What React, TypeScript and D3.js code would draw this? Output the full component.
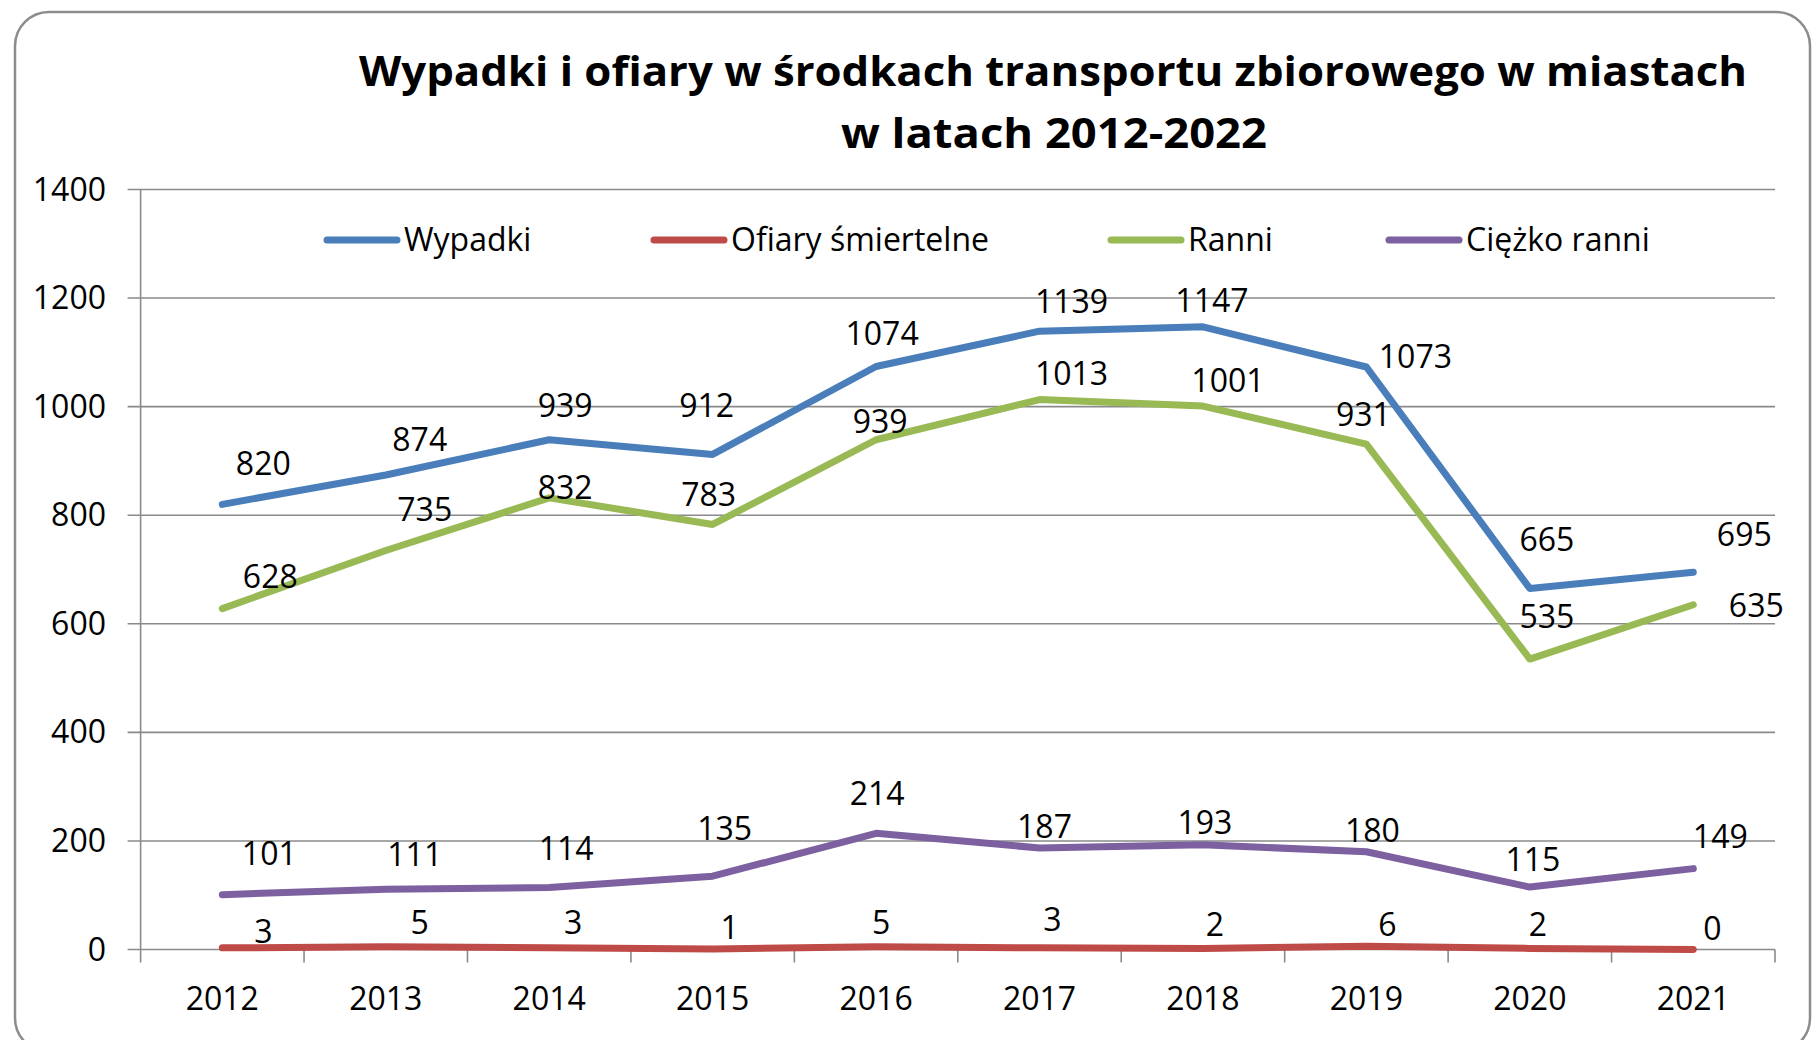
import React from "react";
import * as d3 from "d3";

// chart data
const years = ["2012", "2013", "2014", "2015", "2016", "2017", "2018", "2019", "2020", "2021"];
const wypadki = [820, 874, 939, 912, 1074, 1139, 1147, 1073, 665, 695];
const smiertelne = [3, 5, 3, 1, 5, 3, 2, 6, 2, 0];
const ranni = [628, 735, 832, 783, 939, 1013, 1001, 931, 535, 635];
const ciezkoRanni = [101, 111, 114, 135, 214, 187, 193, 180, 115, 149];
const seriesNames = ["Wypadki", "Ofiary śmiertelne", "Ranni", "Ciężko ranni"];
const yTicks = [0, 200, 400, 600, 800, 1000, 1200, 1400];
const titleLines = [
  "Wypadki i ofiary w środkach transportu zbiorowego w miastach",
  "w latach 2012-2022",
];

// layout: label nudges (dx, dy from point to label baseline), hand-placed in the original
const shiftWypadki = [[41, -29], [34, -24], [16, -23], [-6, -37], [6, -21], [32, -18], [9, -15], [49, 1], [17, -38], [51, -26]];
const shiftSmiertelne = [[41, -5], [34, -13], [24, -14], [17, -10], [5, -13], [13, -17], [12, -12], [21, -10], [8, -12], [19, -10]];
const shiftRanni = [[48, -21], [39, -30], [16, 1], [-4, -18], [4, -7], [32, -15], [25, -14], [-3, -18], [17, -31], [63, 12]];
const shiftCiezko = [[47, -30], [29, -23], [17, -28], [12, -36], [1, -28], [5, -10], [2, -11], [6, -10], [3, -16], [27, -21]];

const colors = ["#4a7ebb", "#be4b48", "#98b954", "#7d60a0"];
const font = "'Open Sans', 'Noto Sans', sans-serif";

const W = 1817;
const H = 1040;
const plot = { left: 140.6, right: 1775, top: 189.5, bottom: 949.5 };

export default function App() {
  const x = d3.scaleBand().domain(years).range([plot.left, plot.right]);
  const y = d3.scaleLinear().domain([0, 1400]).range([plot.bottom, plot.top]);
  const cx = (d) => x(d) + x.bandwidth() / 2;

  const series = [
    { name: seriesNames[0], values: wypadki, shift: shiftWypadki, color: colors[0] },
    { name: seriesNames[1], values: smiertelne, shift: shiftSmiertelne, color: colors[1] },
    { name: seriesNames[2], values: ranni, shift: shiftRanni, color: colors[2] },
    { name: seriesNames[3], values: ciezkoRanni, shift: shiftCiezko, color: colors[3] },
  ];

  const line = d3
    .line()
    .x((d, i) => cx(years[i]))
    .y((d) => y(d));

  const legendX = [324, 651, 1108, 1386];
  const legendY = 240;
  const gridColor = "#8a8a8a";
  const boundaries = years.map((d) => x(d)).concat([plot.right]);

  return (
    <svg
      width={W}
      height={H}
      style={{ position: "absolute", left: 0, top: 0, background: "#fff" }}
      fontFamily={font}
    >
      {/* frame */}
      <rect x={15} y={12} width={1795} height={1040} rx={34} fill="#fff" stroke="#8c8c8c" strokeWidth={2.5} />

      {/* title */}
      <text x={1053} y={86} textAnchor="middle" fontSize={42} fontWeight="bold" fill="#000" textLength={1388} lengthAdjust="spacingAndGlyphs">
        {titleLines[0]}
      </text>
      <text x={1054} y={148} textAnchor="middle" fontSize={42} fontWeight="bold" fill="#000" textLength={426} lengthAdjust="spacingAndGlyphs">
        {titleLines[1]}
      </text>

      {/* gridlines + y axis */}
      {yTicks.map((t) => (
        <g key={t}>
          <line x1={plot.left - 13} x2={plot.right} y1={y(t)} y2={y(t)} stroke={gridColor} strokeWidth={1.6} />
          <text x={106} y={y(t) + 11} textAnchor="end" fontSize={32} fill="#000">
            {t}
          </text>
        </g>
      ))}
      <line x1={plot.left} x2={plot.left} y1={plot.top} y2={plot.bottom} stroke={gridColor} strokeWidth={1.6} />

      {/* x axis ticks + labels */}
      {boundaries.map((b, i) => (
        <line key={i} x1={b} x2={b} y1={plot.bottom} y2={plot.bottom + 13} stroke={gridColor} strokeWidth={1.6} />
      ))}
      {years.map((d) => (
        <text key={d} x={cx(d)} y={1010} textAnchor="middle" fontSize={32} fill="#000">
          {d}
        </text>
      ))}

      {/* legend */}
      {series.map((s, i) => (
        <g key={s.name}>
          <line x1={legendX[i] + 3} x2={legendX[i] + 73} y1={legendY} y2={legendY} stroke={s.color} strokeWidth={7} strokeLinecap="round" />
          <text x={legendX[i] + 80} y={legendY + 11} fontSize={32} fill="#000">
            {s.name}
          </text>
        </g>
      ))}

      {/* lines */}
      {series.map((s) => (
        <path key={s.name} d={line(s.values)} fill="none" stroke={s.color} strokeWidth={7} strokeLinejoin="round" strokeLinecap="round" />
      ))}

      {/* data labels */}
      {series.map((s) =>
        s.values.map((v, i) => (
          <text
            key={s.name + i}
            x={cx(years[i]) + s.shift[i][0]}
            y={y(v) + s.shift[i][1]}
            textAnchor="middle"
            fontSize={32}
            fill="#000"
          >
            {v}
          </text>
        ))
      )}
    </svg>
  );
}
